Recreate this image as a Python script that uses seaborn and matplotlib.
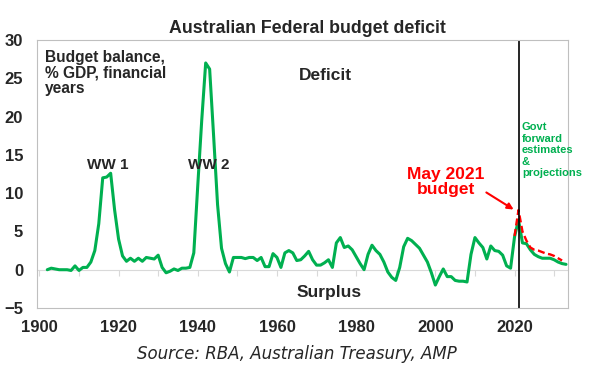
import numpy as np
import pandas as pd
import matplotlib
matplotlib.use('Agg')
import matplotlib.pyplot as plt
import seaborn as sns

# 재정수지 (% GDP), 회계연도 1902 ~ 2033
years = list(range(1902, 2034))
balance = [
    0.0, 0.2, 0.1, 0.0, 0.0, 0.0, -0.1, 0.5,                 # 1902-1909
    -0.1, 0.3, 0.3, 1.0, 2.5, 6.0, 12.0, 12.1, 12.6, 7.8,   # 1910-1919
    4.0, 1.8, 1.1, 1.5, 1.1, 1.5, 1.1, 1.6, 1.5, 1.4,       # 1920-1929
    1.9, 0.3, -0.4, -0.2, 0.1, -0.1, 0.2, 0.2, 0.3, 2.2,    # 1930-1939
    11.0, 19.5, 27.0, 26.2, 17.5, 8.5, 2.8, 0.8, -0.3, 1.6, # 1940-1949
    1.6, 1.6, 1.45, 1.6, 1.6, 1.2, 1.6, 0.4, 0.4, 2.1,      # 1950-1959
    1.6, 0.3, 2.2, 2.5, 2.2, 1.2, 1.3, 1.8, 2.4, 1.3,       # 1960-1969
    0.6, 0.6, 0.9, 1.3, 0.3, 3.5, 4.2, 2.9, 3.1, 2.6,       # 1970-1979
    1.7, 0.8, 0.0, 2.0, 3.2, 2.5, 2.0, 1.0, -0.3, -1.0,     # 1980-1989
    -1.4, 0.3, 3.0, 4.1, 3.8, 3.3, 2.8, 1.9, 1.0, -0.4,     # 1990-1999
    -2.0, -0.9, 0.1, -0.9, -0.9, -1.4, -1.5, -1.5, -1.6, 2.0,  # 2000-2009
    4.2, 3.5, 2.9, 1.4, 3.1, 2.5, 2.4, 1.9, 0.5, 0.2,       # 2010-2019
    4.3, 6.5, 3.5, 3.4, 2.6, 2.0, 1.7, 1.5, 1.5, 1.5,       # 2020-2029
    1.3, 1.0, 0.8, 0.7,                                     # 2030-2033
]

# 2021년 5월 예산 전망
may21_years = list(range(2020, 2033))
may21_balance = [4.4, 7.8, 5.0, 3.8, 2.9, 2.6, 2.5, 2.3, 2.1, 2.0, 1.8, 1.5, 1.2]

y_ticks = [-5, 0, 5, 10, 15, 20, 25, 30]
x_labels = [1900, 1920, 1940, 1960, 1980, 2000, 2020]
budget_year = 2021

df = pd.DataFrame({'year': years, 'balance': balance})
df_may = pd.DataFrame({'year': may21_years, 'balance': may21_balance})

sns.set_style('white')
plt.rcParams['font.family'] = ['Liberation Sans', 'DejaVu Sans']

W, H = 597, 375
fig = plt.figure(figsize=(W / 100, H / 100), dpi=100)
ax = fig.add_axes([37 / W, 1 - 308 / H, (568 - 37) / W, (308 - 40) / H])

green = '#00B050'
red = '#FF0000'
grey = '#BFBFBF'

sns.lineplot(data=df, x='year', y='balance', ax=ax, color=green, linewidth=2.2)
sns.lineplot(data=df_may, x='year', y='balance', ax=ax, color=red,
             linewidth=1.7, linestyle=(0, (3, 1.5)))
ax.axvline(budget_year, color='black', linewidth=1.2)

ax.set_xlim(1899.4, 2033.5)
ax.set_ylim(-5, 30)
ax.set_xlabel('')
ax.set_ylabel('')
ax.set_yticks(y_ticks)
ax.set_xticks(x_labels)
for lab in ax.get_xticklabels() + ax.get_yticklabels():
    lab.set_fontweight('bold')
    lab.set_fontsize(12)
ax.tick_params(axis='x', length=0, pad=9)
ax.tick_params(axis='y', length=3, width=0.8, color=grey, pad=7)
for s in ax.spines.values():
    s.set_color(grey)
    s.set_linewidth(0.8)

# 0 기준선 + 10년 눈금
sec = ax.secondary_xaxis(5 / 35)
sec.set_xticks(list(range(1900, 2040, 10)))
sec.set_xticklabels([])
sec.tick_params(axis='x', length=4, width=0.8, color='#D9D9D9', direction='out')
sec.spines['bottom'].set_color('#D9D9D9')
sec.spines['bottom'].set_linewidth(0.8)

def px(x, y):
    return x / W, 1 - y / H

fig.text(*px(307, 33), 'Australian Federal budget deficit', ha='center', va='baseline',
         fontsize=12.8, fontweight='bold')
fig.text(*px(45, 50), 'Budget balance,\n% GDP, financial\nyears', ha='left', va='top',
         fontsize=11.2, fontweight='bold', linespacing=1.05)
fig.text(*px(325, 76), 'Deficit', ha='center', va='center', fontsize=12.5, fontweight='bold')
fig.text(*px(329, 293), 'Surplus', ha='center', va='center', fontsize=12.5, fontweight='bold')
fig.text(*px(108, 165), 'WW 1', ha='center', va='center', fontsize=11, fontweight='bold')
fig.text(*px(209, 165), 'WW 2', ha='center', va='center', fontsize=11, fontweight='bold')
fig.text(*px(446, 182), 'May 2021\nbudget', ha='center', va='center', fontsize=12.5,
         fontweight='bold', color=red, linespacing=1.05)
fig.text(*px(522, 122), 'Govt\nforward\nestimates\n&\nprojections', ha='left', va='top',
         fontsize=8, fontweight='bold', color=green, linespacing=1.2)
ax.annotate('', xy=px(516, 211), xytext=px(484, 191), xycoords='figure fraction',
            textcoords='figure fraction',
            arrowprops=dict(arrowstyle='-|>', color=red, lw=1.5, mutation_scale=9))
fig.text(*px(297, 354), 'Source: RBA, Australian Treasury, AMP', ha='center', va='center',
         fontsize=12, style='italic', family='DejaVu Sans')

plt.savefig('out.png', dpi=100)
